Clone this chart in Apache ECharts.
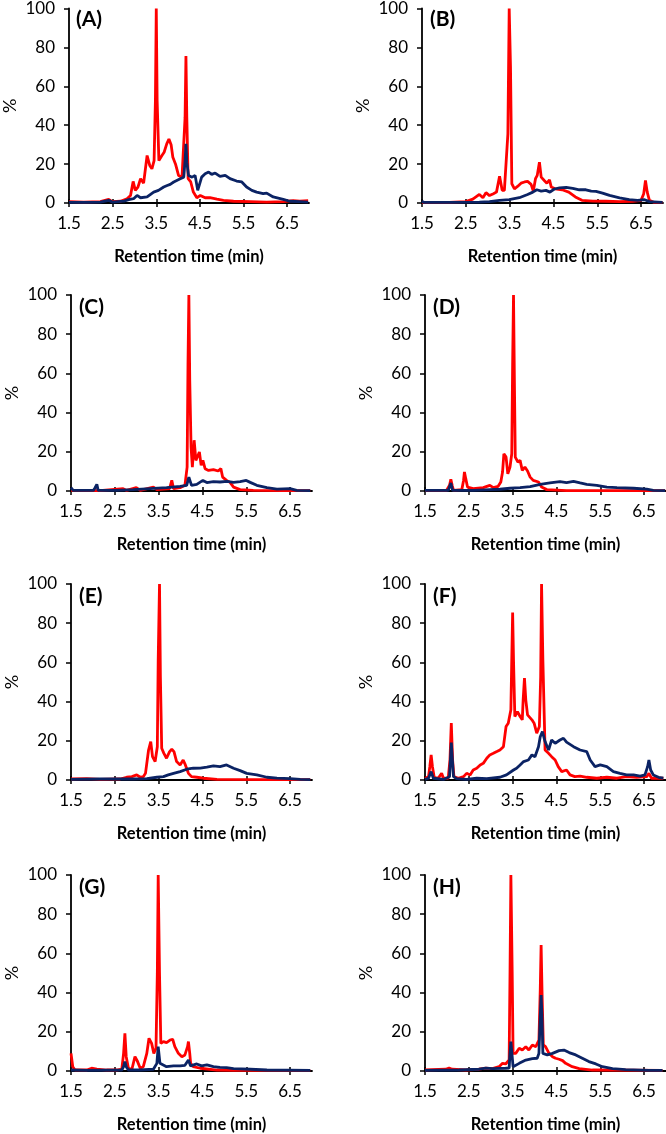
<!DOCTYPE html>
<html><head><meta charset="utf-8">
<script src="https://cdn.jsdelivr.net/npm/echarts@6/dist/echarts.min.js"></script>
<style>html,body{margin:0;padding:0;background:#fff}#c{width:666px;height:1134px}</style>
</head><body><div id="c"></div>
<script>
// ---- tick labels / categories ----
const xTickValues = [1.5, 2.5, 3.5, 4.5, 5.5, 6.5];
const xRange = [1.5, 7];
const yRange = [0, 100];
const panelLabels = ['(A)', '(B)', '(C)', '(D)', '(E)', '(F)', '(G)', '(H)'];
const xTitle = 'Retention time (min)';
const yTitle = '%';

// ---- series values: [retention time (min), %] ----
const redA = [[1.50,0.7],[1.84,0.5],[2.22,0.7],[2.41,1.9],[2.49,0.7],[2.68,0.9],[2.83,2.2],[2.91,3.9],[2.97,11.1],[3.02,6.5],[3.08,8.2],[3.14,12.5],[3.21,10.2],[3.29,24.4],[3.35,19.3],[3.40,17.6],[3.45,21.8],[3.48,52.6],[3.50,100],[3.52,52.6],[3.56,21.8],[3.63,24.4],[3.68,26.1],[3.74,30.4],[3.79,32.9],[3.84,30.0],[3.88,23.5],[3.94,20.1],[4.01,14.2],[4.09,13.3],[4.13,14.2],[4.16,44.0],[4.18,75.6],[4.20,44.0],[4.23,12.5],[4.29,10.8],[4.35,5.6],[4.43,2.7],[4.51,3.9],[4.62,2.7],[4.73,2.7],[4.89,2.0],[5.04,1.4],[5.27,0.9],[5.65,0.7],[6.03,0.5],[6.41,0.7],[6.64,1.2],[6.79,1.0],[6.98,1.2]];
const blueA = [[1.50,0.3],[1.92,0.3],[2.22,0.5],[2.41,1.4],[2.49,0.5],[2.76,1.0],[2.87,1.7],[2.98,2.2],[3.06,3.9],[3.14,2.7],[3.29,3.1],[3.44,5.6],[3.55,6.5],[3.67,8.2],[3.75,9.0],[3.82,9.6],[3.90,10.8],[4.05,12.5],[4.13,13.3],[4.16,21.8],[4.18,30.4],[4.20,21.0],[4.24,14.2],[4.32,13.3],[4.39,14.2],[4.45,6.5],[4.48,7.3],[4.54,13.3],[4.62,15.0],[4.70,15.9],[4.77,14.7],[4.85,15.4],[4.96,13.7],[5.08,14.2],[5.19,12.5],[5.34,11.3],[5.46,10.8],[5.57,8.2],[5.69,6.5],[5.80,5.6],[5.95,4.8],[6.03,5.1],[6.18,3.1],[6.41,1.9],[6.56,0.9],[6.79,0.7],[6.98,0.5]];

const redB = [[1.50,0.3],[2.12,0.3],[2.50,0.7],[2.66,2.0],[2.73,3.1],[2.81,4.4],[2.89,2.7],[2.96,5.3],[3.04,3.8],[3.13,4.8],[3.20,5.6],[3.27,13.7],[3.33,6.5],[3.38,6.5],[3.42,5.6],[3.46,35.5],[3.49,100],[3.52,69.6],[3.55,9.9],[3.61,7.3],[3.68,8.5],[3.76,10.2],[3.84,10.8],[3.91,11.1],[3.99,9.6],[4.04,6.1],[4.09,12.5],[4.13,14.2],[4.18,21.0],[4.22,13.3],[4.29,11.6],[4.35,10.2],[4.41,11.9],[4.45,8.2],[4.54,7.3],[4.70,6.8],[4.85,5.6],[5.00,3.1],[5.15,1.4],[5.40,1.0],[5.70,0.9],[6.01,0.7],[6.31,0.9],[6.50,1.4],[6.56,4.8],[6.60,11.6],[6.64,5.6],[6.69,1.4],[6.80,0.3],[6.99,0.3]];
const blueB = [[1.50,0.9],[1.55,0.3],[2.12,0.3],[2.81,0.5],[3.04,0.7],[3.27,1.4],[3.49,1.7],[3.72,2.7],[3.91,4.4],[4.03,5.6],[4.12,6.8],[4.22,6.1],[4.33,6.5],[4.42,5.6],[4.52,7.2],[4.64,7.8],[4.79,8.0],[4.94,7.5],[5.09,6.8],[5.24,6.8],[5.36,6.1],[5.47,6.0],[5.62,5.1],[5.78,3.9],[6.01,2.6],[6.23,1.7],[6.42,1.4],[6.58,1.7],[6.69,0.7],[6.99,0.3]];

const redC = [[1.50,0.3],[2.16,0.2],[2.69,1.2],[2.77,0.3],[2.99,1.7],[3.08,0.3],[3.38,2.0],[3.46,0.7],[3.75,1.2],[3.80,5.4],[3.84,1.2],[3.99,1.7],[4.10,2.9],[4.15,12.2],[4.17,65.0],[4.19,100],[4.21,56.5],[4.24,22.4],[4.27,12.2],[4.31,25.9],[4.35,15.6],[4.39,14.8],[4.43,19.9],[4.47,13.1],[4.51,15.6],[4.56,11.4],[4.64,10.5],[4.75,10.9],[4.86,10.2],[4.92,11.4],[4.96,7.1],[5.05,5.4],[5.13,4.4],[5.21,2.0],[5.36,0.7],[5.66,0.3],[6.35,0.2],[6.96,0.2]];
const blueC = [[1.50,1.7],[1.55,0.3],[2.01,0.3],[2.05,1.7],[2.09,3.4],[2.12,0.3],[2.54,0.3],[2.92,0.7],[3.30,1.2],[3.68,1.7],[3.99,2.4],[4.14,2.9],[4.19,7.1],[4.25,2.9],[4.37,3.4],[4.51,5.4],[4.60,4.3],[4.75,4.8],[4.90,4.6],[5.06,4.9],[5.21,4.4],[5.36,4.8],[5.50,5.4],[5.59,4.4],[5.74,2.9],[5.97,1.7],[6.20,1.0],[6.50,1.2],[6.65,0.3],[6.96,0.2]];

const redD = [[1.50,0.3],[1.99,0.3],[2.06,2.9],[2.09,6.0],[2.12,2.9],[2.15,0.3],[2.34,0.7],[2.38,5.4],[2.40,9.7],[2.43,6.3],[2.47,2.0],[2.60,1.2],[2.83,1.7],[2.98,2.9],[3.06,1.7],[3.17,2.4],[3.23,4.6],[3.27,9.7],[3.30,19.0],[3.35,17.3],[3.39,8.8],[3.44,12.2],[3.48,19.0],[3.50,65.0],[3.52,100],[3.54,56.5],[3.56,17.3],[3.62,14.8],[3.67,15.6],[3.72,10.5],[3.78,12.2],[3.84,10.2],[3.90,7.1],[3.97,5.4],[4.09,4.6],[4.16,2.0],[4.28,0.7],[4.73,0.2],[5.50,0.2],[6.98,0.2]];
const blueD = [[1.50,0.3],[2.03,0.3],[2.09,4.1],[2.13,0.3],[2.60,0.3],[2.98,0.7],[3.21,0.9],[3.44,1.4],[3.67,1.7],[3.90,2.2],[4.13,3.4],[4.35,4.1],[4.58,4.8],[4.73,4.3],[4.89,4.9],[5.04,4.1],[5.19,3.4],[5.42,2.9],[5.65,2.0],[5.88,1.7],[6.26,1.4],[6.56,1.0],[6.71,0.3],[6.98,0.2]];

const redE = [[1.50,0.5],[1.86,0.7],[2.16,0.3],[2.62,0.5],[2.77,1.4],[2.89,1.7],[3.00,2.6],[3.08,1.4],[3.15,1.7],[3.20,3.4],[3.27,15.3],[3.32,19.6],[3.36,11.9],[3.42,9.4],[3.47,17.0],[3.49,61.3],[3.52,100],[3.54,52.8],[3.57,16.2],[3.62,13.6],[3.68,11.1],[3.75,14.5],[3.80,15.7],[3.85,14.5],[3.91,9.4],[3.99,7.7],[4.06,10.2],[4.11,7.7],[4.18,3.4],[4.25,1.7],[4.37,1.4],[4.52,0.9],[4.83,0.3],[5.97,0.2],[6.96,0.2]];
const blueE = [[1.50,0.3],[2.16,0.5],[2.92,0.5],[3.23,0.7],[3.46,1.4],[3.61,1.7],[3.72,2.6],[3.84,3.4],[3.99,4.3],[4.14,5.5],[4.29,6.0],[4.45,6.1],[4.60,6.6],[4.75,7.2],[4.90,6.8],[5.05,7.7],[5.21,6.0],[5.36,4.8],[5.51,3.4],[5.74,2.6],[5.97,1.4],[6.20,1.0],[6.50,0.7],[6.73,0.3],[6.96,0.2]];

const redF = [[1.50,0.9],[1.58,1.7],[1.61,6.8],[1.64,12.8],[1.67,6.8],[1.71,1.4],[1.80,0.9],[1.88,3.4],[1.92,0.9],[2.03,0.9],[2.07,10.2],[2.10,29.0],[2.13,10.2],[2.16,1.7],[2.26,0.9],[2.38,1.7],[2.45,3.4],[2.53,2.6],[2.60,5.1],[2.68,6.0],[2.76,7.7],[2.83,8.5],[2.91,11.1],[2.98,12.8],[3.06,13.6],[3.14,14.5],[3.21,15.3],[3.29,17.0],[3.35,27.3],[3.40,29.0],[3.46,35.8],[3.48,61.3],[3.50,85.5],[3.52,61.3],[3.55,32.4],[3.61,34.9],[3.67,32.4],[3.72,30.7],[3.74,40.9],[3.77,52.0],[3.80,40.9],[3.84,33.2],[3.88,34.1],[3.94,30.7],[3.99,29.0],[4.05,23.9],[4.11,27.3],[4.14,52.8],[4.16,100],[4.19,61.3],[4.24,15.3],[4.32,13.6],[4.39,11.9],[4.47,10.2],[4.54,6.8],[4.62,4.3],[4.73,5.1],[4.81,2.6],[4.92,1.7],[5.04,2.0],[5.19,1.4],[5.42,0.9],[5.65,1.4],[5.88,0.9],[6.10,1.7],[6.33,1.4],[6.56,1.7],[6.61,3.4],[6.67,0.9],[6.94,0.9]];
const blueF = [[1.50,0.3],[1.58,0.9],[1.64,4.3],[1.69,0.9],[1.92,0.3],[2.06,1.7],[2.10,19.1],[2.15,1.7],[2.22,0.7],[2.45,0.3],[2.68,0.9],[2.91,0.7],[3.21,1.4],[3.36,2.6],[3.52,5.1],[3.59,6.0],[3.67,7.7],[3.75,9.4],[3.86,10.2],[3.94,12.8],[4.01,11.9],[4.09,17.0],[4.13,22.1],[4.18,24.7],[4.24,19.6],[4.32,15.3],[4.39,20.4],[4.47,18.7],[4.58,20.4],[4.66,21.3],[4.73,19.3],[4.89,17.0],[5.04,15.3],[5.19,14.5],[5.27,10.2],[5.38,6.8],[5.50,7.7],[5.65,6.8],[5.80,4.3],[5.95,3.4],[6.10,2.6],[6.26,2.6],[6.41,2.0],[6.52,2.6],[6.58,6.8],[6.61,10.2],[6.65,5.1],[6.71,2.6],[6.83,1.4],[6.94,0.9]];

const redG = [[1.50,9.0],[1.54,2.2],[1.59,0.5],[1.86,0.5],[1.97,1.4],[2.09,1.0],[2.31,0.5],[2.54,0.5],[2.66,0.9],[2.70,9.0],[2.73,19.2],[2.76,7.3],[2.81,1.4],[2.89,0.9],[2.96,7.3],[3.01,5.3],[3.08,1.4],[3.15,2.2],[3.23,9.0],[3.28,16.7],[3.34,14.1],[3.39,9.0],[3.44,11.6],[3.47,49.8],[3.49,100],[3.52,49.8],[3.55,14.1],[3.61,15.0],[3.68,14.5],[3.76,15.8],[3.82,16.2],[3.87,12.4],[3.95,9.0],[4.03,7.3],[4.10,8.2],[4.16,12.4],[4.18,15.0],[4.21,9.0],[4.23,3.9],[4.29,2.2],[4.45,1.4],[4.83,0.5],[5.21,0.3],[6.96,0.3]];
const blueG = [[1.50,0.5],[1.86,0.3],[2.66,0.5],[2.70,2.2],[2.73,4.8],[2.76,2.2],[2.81,0.5],[3.08,0.5],[3.38,0.9],[3.46,3.9],[3.49,12.4],[3.53,3.9],[3.57,2.9],[3.68,2.2],[3.84,2.6],[3.99,2.6],[4.10,2.9],[4.18,5.6],[4.23,2.6],[4.37,3.6],[4.48,2.6],[4.60,3.1],[4.75,2.2],[4.90,1.9],[5.05,1.7],[5.21,1.2],[5.59,0.9],[5.97,0.5],[6.96,0.3]];

const redH = [[1.50,0.5],[1.97,0.9],[2.05,1.5],[2.12,0.9],[2.43,0.5],[2.73,0.9],[2.89,1.5],[3.04,1.2],[3.19,2.2],[3.27,3.9],[3.34,3.6],[3.42,5.6],[3.44,49.8],[3.46,100],[3.49,49.8],[3.51,9.0],[3.57,9.0],[3.65,11.6],[3.72,10.7],[3.80,12.4],[3.87,10.7],[3.95,13.3],[4.03,12.4],[4.10,15.8],[4.13,41.3],[4.15,64.3],[4.17,41.3],[4.20,13.3],[4.25,12.4],[4.33,9.0],[4.41,7.3],[4.48,6.5],[4.56,6.0],[4.64,5.3],[4.71,3.9],[4.86,2.2],[5.02,1.2],[5.32,0.5],[6.92,0.3]];
const blueH = [[1.50,0.3],[2.28,0.5],[2.73,0.9],[2.89,1.5],[3.04,1.2],[3.34,1.4],[3.42,1.5],[3.44,9.0],[3.46,15.0],[3.49,7.3],[3.51,2.2],[3.65,3.9],[3.80,5.6],[3.95,6.3],[4.06,6.5],[4.10,9.0],[4.13,27.7],[4.15,38.8],[4.17,27.7],[4.19,9.0],[4.29,8.2],[4.41,9.0],[4.56,10.4],[4.67,10.7],[4.79,9.4],[4.94,8.2],[5.09,6.5],[5.24,4.8],[5.40,3.6],[5.55,2.2],[5.78,1.2],[6.08,0.7],[6.61,0.3],[6.92,0.3]];

const redSeries = [redA, redB, redC, redD, redE, redF, redG, redH];
const blueSeries = [blueA, blueB, blueC, blueD, blueE, blueF, blueG, blueH];

// ---- layout (pixels) ----
const gridLefts = [68, 422, 71, 425, 71, 425, 71, 425];
const gridTops = [7, 7, 295, 295, 584, 584, 875, 875];
const gridW = 241, gridH = 196;
const RED = '#FF0000', NAVY = '#0B2364';
const FONT = 'Lato, "Open Sans", sans-serif';

const grids = [], xAxes = [], yAxes = [], series = [], graphics = [];
for (let i = 0; i < 8; i++) {
  grids.push({left: gridLefts[i], top: gridTops[i], width: gridW, height: gridH, containLabel: false});
  const axisText = {color: '#000', fontFamily: FONT, fontSize: 17};
  xAxes.push({
    type: 'value', gridIndex: i, min: xRange[0], max: xRange[1], position: 'bottom',
    splitLine: {show: false},
    axisLine: {show: true, onZero: false, lineStyle: {color: '#000', width: 1.8}},
    axisTick: {show: true, length: 4, customValues: xTickValues, lineStyle: {color: '#000', width: 1.5}},
    axisLabel: {show: true, margin: 12, customValues: xTickValues, formatter: v => v.toFixed(1), ...axisText},
    name: xTitle, nameLocation: 'middle', nameGap: 45,
    nameTextStyle: {color: '#000', fontFamily: FONT, fontSize: 16.5, fontWeight: 'bold'}
  });
  // inner half of crossing tick marks
  xAxes.push({
    type: 'value', gridIndex: i, min: xRange[0], max: xRange[1], position: 'bottom',
    splitLine: {show: false}, axisLine: {show: false, onZero: false},
    axisTick: {show: true, inside: true, length: 4, customValues: xTickValues, lineStyle: {color: '#000', width: 1.5}},
    axisLabel: {show: false}
  });
  yAxes.push({
    type: 'value', gridIndex: i, min: yRange[0], max: yRange[1], interval: 20,
    splitLine: {show: false},
    axisLine: {show: true, lineStyle: {color: '#000', width: 1.8}},
    axisTick: {show: true, length: 5, lineStyle: {color: '#000', width: 1.5}},
    axisLabel: {margin: 14, ...axisText},
    name: yTitle, nameLocation: 'middle', nameGap: 50, nameRotate: 90,
    nameTextStyle: {color: '#000', fontFamily: FONT, fontSize: 18}
  });
  series.push({
    type: 'line', xAxisIndex: 2 * i, yAxisIndex: i, data: redSeries[i], showSymbol: false,
    lineStyle: {color: RED, width: 2.8}, itemStyle: {color: RED}, animation: false, z: 2
  });
  series.push({
    type: 'line', xAxisIndex: 2 * i, yAxisIndex: i, data: blueSeries[i], showSymbol: false,
    lineStyle: {color: NAVY, width: 2.8}, itemStyle: {color: NAVY}, animation: false, z: 3
  });
  graphics.push({
    type: 'text', left: gridLefts[i] + 8, top: gridTops[i] + 2,
    style: {text: panelLabels[i], fill: '#000', font: 'bold 21px ' + FONT}
  });
}

const chart = echarts.init(document.getElementById('c'), null, {renderer: 'canvas'});
chart.setOption({
  backgroundColor: '#fff',
  animation: false,
  grid: grids, xAxis: xAxes, yAxis: yAxes, series: series, graphic: graphics
});
</script>
</body></html>
